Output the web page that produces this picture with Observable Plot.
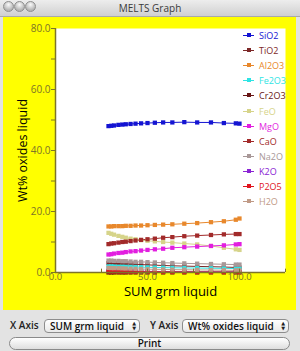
<!DOCTYPE html>
<html>
<head>
<meta charset="utf-8">
<script src="https://cdn.jsdelivr.net/npm/d3@7"></script>
<script src="https://cdn.jsdelivr.net/npm/@observablehq/plot@0.6"></script>
<style>
  html, body { margin: 0; padding: 0; }
  body { width: 300px; height: 351px; overflow: hidden; position: relative;
         background: #e3e3e3; font-family: "Open Sans", "DejaVu Sans", sans-serif; }
  #titlebar { position: absolute; left: 0; top: 0; width: 300px; height: 17px; box-sizing: border-box;
              background: linear-gradient(#ededed, #d0d0d0); border-bottom: 1px solid #a9a9a9; }
  #titlebar .t { position: absolute; left: 0; right: 0; top: 0; line-height: 16px; text-align: center;
                 font-size: 10px; color: #3a3a3a; }
  .light { position: absolute; top: 1px; width: 11px; height: 11px; border-radius: 50%; box-sizing: border-box;
           background: radial-gradient(circle at 50% 30%, #fafafa, #b4b4b4 70%); border: 1px solid #8e8e8e; }
  #chart { position: absolute; left: 3px; top: 17px; }
  #legend { position: absolute; left: 243px; top: 28px; }
  .row { height: 15.1px; display: flex; align-items: center; white-space: nowrap; font-size: 9px; }
  .sw { position: relative; width: 11px; height: 5px; margin-right: 5px; flex: none; }
  .sw .ln { position: absolute; left: 0; right: 0; top: 2px; height: 1px; }
  .sw .sq { position: absolute; left: 3.5px; top: 0; width: 4px; height: 4px; }
  .lbl { position: absolute; font-size: 10px; font-weight: 600; color: #222; line-height: 14px; }
  .sel { position: absolute; height: 14px; box-sizing: border-box; border: 1px solid #8d8d8d; border-radius: 4px;
         background: linear-gradient(#ffffff, #e9e9e9); font-size: 10px; font-weight: 600; color: #111;
         line-height: 12px; padding-left: 5px; }
  .sel .arr { position: absolute; right: 3px; top: 1px; font-size: 5px; line-height: 5px; color: #222; }
  #print { position: absolute; left: 9px; top: 337px; width: 281px; height: 13px; box-sizing: border-box;
           border: 1px solid #8a8a8a; border-radius: 7px; background: linear-gradient(#ffffff, #dedede);
           text-align: center; font-size: 10px; font-weight: 600; color: #111; line-height: 11px; }
</style>
</head>
<body>
<div id="titlebar">
  <div class="light" style="left:3px"></div>
  <div class="light" style="left:14px"></div>
  <div class="light" style="left:25px"></div>
  <div class="t">MELTS Graph</div>
</div>
<div id="chart"></div>
<div id="legend"></div>

<div class="lbl" style="left:10px; top:318px">X Axis</div>
<div class="sel" style="left:44px; top:319px; width:96px">SUM grm liquid<div class="arr">▲<br>▼</div></div>
<div class="lbl" style="left:150px; top:318px">Y Axis</div>
<div class="sel" style="left:182px; top:319px; width:107px">Wt% oxides liquid<div class="arr">▲<br>▼</div></div>
<div id="print">Print</div>

<script>
// Liquid mass (grams) at each step of the crystallization run
const sumLiquid = [100, 98, 91.5, 84.5, 77, 70, 63.5, 58.5, 54, 50, 46.5, 43.5, 40.8, 38.2, 36.3, 34.2, 31.8, 30.3, 28.8];

// Liquid composition, wt% oxides, one value per step
const sio2  = [48.8, 48.9, 49.0, 49.2, 49.2, 49.3, 49.2, 49.2, 49.1, 49.0, 48.9, 48.8, 48.7, 48.6, 48.5, 48.4, 48.2, 48.1, 48.0];
const tio2  = [1.6, 1.65, 1.8, 1.9, 2.0, 2.1, 2.2, 2.3, 2.4, 2.5, 2.6, 2.7, 2.8, 2.85, 2.9, 2.95, 3.0, 3.05, 3.1];
const al2o3 = [17.7, 17.3, 16.8, 16.5, 16.2, 16.0, 15.8, 15.7, 15.6, 15.5, 15.4, 15.4, 15.3, 15.3, 15.2, 15.2, 15.2, 15.1, 15.1];
const fe2o3 = [1.3, 1.3, 1.35, 1.4, 1.45, 1.5, 1.55, 1.6, 1.65, 1.7, 1.75, 1.8, 1.85, 1.85, 1.9, 1.9, 1.95, 2.0, 2.0];
const cr2o3 = [0.05, 0.05, 0.04, 0.04, 0.03, 0.03, 0.03, 0.02, 0.02, 0.02, 0.02, 0.02, 0.01, 0.01, 0.01, 0.01, 0.01, 0.01, 0.01];
const feo   = [7.4, 7.6, 8.1, 8.7, 9.2, 9.5, 9.8, 10.0, 10.2, 10.4, 10.6, 10.9, 11.1, 11.4, 11.7, 12.0, 12.4, 12.7, 13.0];
const mgo   = [9.3, 9.2, 8.9, 8.7, 8.5, 8.3, 8.1, 7.8, 7.6, 7.4, 7.2, 7.0, 6.9, 6.7, 6.5, 6.4, 6.2, 6.0, 5.9];
const cao   = [12.6, 12.6, 12.5, 12.3, 12.1, 11.9, 11.6, 11.4, 11.1, 10.9, 10.7, 10.5, 10.3, 10.1, 10.0, 9.8, 9.6, 9.5, 9.3];
const na2o  = [2.6, 2.6, 2.7, 2.8, 2.9, 3.0, 3.1, 3.2, 3.3, 3.4, 3.5, 3.5, 3.6, 3.7, 3.7, 3.8, 3.8, 3.9, 3.9];
const k2o   = [0.2, 0.2, 0.22, 0.24, 0.26, 0.28, 0.3, 0.33, 0.35, 0.38, 0.4, 0.42, 0.45, 0.48, 0.5, 0.52, 0.55, 0.58, 0.6];
const p2o5  = [0.12, 0.12, 0.13, 0.14, 0.15, 0.17, 0.18, 0.2, 0.21, 0.23, 0.24, 0.26, 0.28, 0.3, 0.31, 0.33, 0.35, 0.37, 0.4];
const h2o   = [0.7, 0.7, 0.75, 0.8, 0.85, 0.9, 0.95, 1.0, 1.05, 1.1, 1.15, 1.2, 1.25, 1.3, 1.35, 1.4, 1.42, 1.45, 1.5];

const oxideNames = ["SiO2", "TiO2", "Al2O3", "Fe2O3", "Cr2O3", "FeO", "MgO", "CaO", "Na2O", "K2O", "P2O5", "H2O"];
const oxideSeries = [sio2, tio2, al2o3, fe2o3, cr2o3, feo, mgo, cao, na2o, k2o, p2o5, h2o];
const oxideColors = ["#1414d2", "#7c2828", "#e8882c", "#2ee4e4", "#681616", "#d6d48a",
                     "#e21ee0", "#a22a2a", "#a89898", "#8a24d4", "#e0141e", "#c09a86"];

// long-format table: one row per oxide per step
const rows = oxideNames.flatMap((name, i) =>
  oxideSeries[i].map((v, j) => ({oxide: name, liquid: sumLiquid[j], wt: v})));

const axisColor = "#7d7428";
const yMajor = [0, 20, 40, 60, 80];
const yMinor = [10, 30, 50, 70];
const xMajor = [0, 50, 100];
const xTicks = [25, 50, 75, 100, 125];

const chart = Plot.plot({
  width: 293,
  height: 293,
  marginLeft: 52,
  marginRight: 11,
  marginTop: 11,
  marginBottom: 38,
  style: {background: "#ffff00", fontFamily: "'Open Sans', sans-serif", overflow: "visible"},
  x: {domain: [0, 125]},
  y: {domain: [0, 80]},
  color: {domain: oxideNames, range: oxideColors},
  marks: [
    Plot.frame({fill: "white", stroke: null}),
    // series
    Plot.line(rows, {x: "liquid", y: "wt", z: "oxide", stroke: "oxide", strokeWidth: 1}),
    Plot.dot(rows, {x: "liquid", y: "wt", fill: "oxide", symbol: "square", r: 2.4, stroke: null}),
    // axes
    Plot.ruleY([0], {stroke: axisColor, strokeWidth: 1.5}),
    Plot.ruleX([0], {y1: 0, y2: 80, stroke: axisColor, strokeWidth: 1.5}),
    Plot.axisY(yMajor, {tickSize: 4, tickPadding: 1, stroke: axisColor, fill: axisColor, fontSize: 10,
                        tickFormat: d => d.toFixed(1), label: null}),
    Plot.axisY(yMinor, {tickSize: 4, stroke: axisColor, text: null, label: null}),
    Plot.ruleX(xTicks, {y1: 0, y2: 1.1, stroke: axisColor}),
    Plot.axisX(xMajor, {tickSize: 0, tickPadding: 1, fill: axisColor, fontSize: 9.5,
                        tickFormat: d => d.toFixed(1), label: null}),
    // axis titles
    Plot.text(["Wt% oxides liquid"], {frameAnchor: "left", textAnchor: "middle", lineAnchor: "middle",
                                      rotate: -90, dx: -33, fontSize: 12.5, fill: "black"}),
    Plot.text(["SUM grm liquid"], {frameAnchor: "bottom", textAnchor: "middle", lineAnchor: "middle",
                                   dy: 19, fontSize: 13, fill: "black"})
  ]
});
document.getElementById("chart").appendChild(chart);

// series key, drawn in the upper right of the plotting area
const legend = document.getElementById("legend");
oxideNames.forEach((name, i) => {
  const row = document.createElement("div");
  row.className = "row";
  row.innerHTML = `<div class="sw"><div class="ln" style="background:${oxideColors[i]}"></div>` +
                  `<div class="sq" style="background:${oxideColors[i]}"></div></div>` +
                  `<span style="color:${oxideColors[i]}">${name}</span>`;
  legend.appendChild(row);
});
</script>
</body>
</html>
